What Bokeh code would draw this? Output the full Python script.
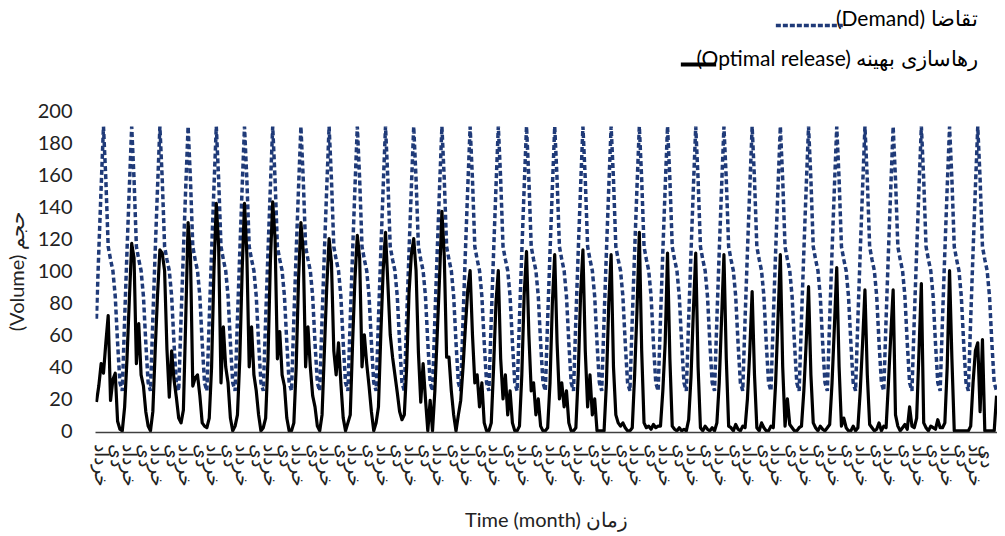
from bokeh.plotting import figure
from bokeh.models import Range1d, FixedTicker
from bokeh.layouts import column
from bokeh.embed import file_html
from bokeh.resources import INLINE
from bokeh.core.properties import value

# ---------------- data ----------------
months = list(range(384))  # 32 years x 12 months

demand = [
    70, 112, 152, 190, 157, 115, 107, 100, 84, 55, 30, 25,
    70, 112, 152, 190, 157, 115, 107, 100, 84, 55, 30, 25,
    70, 112, 152, 190, 157, 115, 107, 100, 84, 55, 30, 25,
    70, 112, 152, 190, 157, 115, 107, 100, 84, 55, 30, 25,
    70, 112, 152, 190, 157, 115, 107, 100, 84, 55, 30, 25,
    70, 112, 152, 190, 157, 115, 107, 100, 84, 55, 30, 25,
    70, 112, 152, 190, 157, 115, 107, 100, 84, 55, 30, 25,
    70, 112, 152, 190, 157, 115, 107, 100, 84, 55, 30, 25,
    70, 112, 152, 190, 157, 115, 107, 100, 84, 55, 30, 25,
    70, 112, 152, 190, 157, 115, 107, 100, 84, 55, 30, 25,
    70, 112, 152, 190, 157, 115, 107, 100, 84, 55, 30, 25,
    70, 112, 152, 190, 157, 115, 107, 100, 84, 55, 30, 25,
    70, 112, 152, 190, 157, 115, 107, 100, 84, 55, 30, 25,
    70, 112, 152, 190, 157, 115, 107, 100, 84, 55, 30, 25,
    70, 112, 152, 190, 157, 115, 107, 100, 84, 55, 30, 25,
    70, 112, 152, 190, 157, 115, 107, 100, 84, 55, 30, 25,
    70, 112, 152, 190, 157, 115, 107, 100, 84, 55, 30, 25,
    70, 112, 152, 190, 157, 115, 107, 100, 84, 55, 30, 25,
    70, 112, 152, 190, 157, 115, 107, 100, 84, 55, 30, 25,
    70, 112, 152, 190, 157, 115, 107, 100, 84, 55, 30, 25,
    70, 112, 152, 190, 157, 115, 107, 100, 84, 55, 30, 25,
    70, 112, 152, 190, 157, 115, 107, 100, 84, 55, 30, 25,
    70, 112, 152, 190, 157, 115, 107, 100, 84, 55, 30, 25,
    70, 112, 152, 190, 157, 115, 107, 100, 84, 55, 30, 25,
    70, 112, 152, 190, 157, 115, 107, 100, 84, 55, 30, 25,
    70, 112, 152, 190, 157, 115, 107, 100, 84, 55, 30, 25,
    70, 112, 152, 190, 157, 115, 107, 100, 84, 55, 30, 25,
    70, 112, 152, 190, 157, 115, 107, 100, 84, 55, 30, 25,
    70, 112, 152, 190, 157, 115, 107, 100, 84, 55, 30, 25,
    70, 112, 152, 190, 157, 115, 107, 100, 84, 55, 30, 25,
    70, 112, 152, 190, 157, 115, 107, 100, 84, 55, 30, 25,
    70, 112, 152, 190, 157, 115, 107, 100, 84, 55, 30, 25,
]

release = [
    18, 28, 42, 36, 55, 72, 19, 32, 36, 6, 1, 0,
    15, 45, 82, 117, 108, 42, 67, 35, 28, 12, 3, 0,
    12, 50, 85, 113, 111, 100, 51, 21, 50, 32, 21, 8,
    5, 13, 70, 130, 110, 28, 33, 35, 22, 5, 3, 2,
    8, 40, 100, 142, 115, 30, 65, 40, 30, 8, 0, 3,
    10, 45, 100, 142, 110, 40, 65, 35, 25, 10, 0, 2,
    8, 45, 105, 143, 120, 45, 62, 35, 28, 8, 0, 0,
    5, 40, 95, 130, 112, 40, 65, 40, 22, 15, 3, 0,
    10, 50, 90, 120, 105, 50, 35, 55, 30, 8, 0, 5,
    10, 55, 95, 122, 108, 40, 60, 42, 28, 12, 0, 5,
    15, 60, 100, 124, 92, 60, 46, 35, 24, 12, 7, 10,
    40, 86, 110, 120, 100, 49, 18, 42, 20, 0, 19, 0,
    25, 60, 96, 137, 109, 46, 46, 25, 10, 0, 10, 19,
    40, 65, 88, 100, 60, 30, 35, 15, 30, 5, 0, 0,
    5, 40, 80, 100, 45, 20, 35, 10, 25, 5, 0, 0,
    3, 35, 85, 112, 60, 25, 30, 10, 20, 3, 0, 0,
    2, 30, 80, 110, 55, 20, 30, 15, 25, 5, 0, 0,
    2, 35, 85, 113, 50, 15, 35, 10, 20, 0, 0, 0,
    0, 30, 80, 110, 40, 10, 5, 3, 5, 2, 0, 0,
    2, 35, 75, 124, 50, 5, 2, 3, 1, 4, 2, 3,
    3, 25, 55, 111, 45, 3, 1, 0, 2, 0, 1, 0,
    7, 34, 75, 111, 40, 2, 0, 3, 1, 0, 2, 0,
    5, 30, 70, 110, 45, 3, 2, 0, 4, 1, 0, 3,
    2, 20, 50, 87, 35, 2, 0, 5, 2, 0, 0, 3,
    2, 30, 70, 110, 40, 3, 20, 4, 2, 0, 0, 2,
    3, 25, 55, 90, 35, 5, 2, 0, 3, 1, 0, 2,
    4, 30, 65, 102, 40, 3, 8, 2, 0, 0, 3, 0,
    2, 25, 55, 88, 35, 4, 2, 0, 1, 5, 0, 3,
    2, 30, 60, 88, 10, 3, 0, 2, 4, 1, 15, 3,
    2, 8, 50, 92, 5, 2, 0, 3, 2, 1, 7, 2,
    2, 5, 40, 100, 45, 0, 0, 0, 0, 0, 0, 0,
    3, 30, 50, 55, 12, 57, 0, 0, 0, 0, 0, 22,
]

month_names = ["خرداد", "دی"]          # labelled months of each year
label_month_index = [2, 9]              # position of those months within a year
y_ticks = [0, 20, 40, 60, 80, 100, 120, 140, 160, 180, 200]

legend_texts = ["(Demand) تقاضا", "(Optimal release) رهاسازی بهینه"]
x_title = "Time (month) زمان"
y_title = "(Volume) حجم"

FONT = "Lato"
DEMAND_COLOR = "#1F3A78"
W = 997

# ---------------- legend strip (page px coordinates) ----------------
LH = 92
TOP = 1
leg = figure(width=W, height=LH, output_backend="svg", toolbar_location=None,
             x_range=Range1d(8, 8 + W), y_range=Range1d(TOP + LH, TOP),
             x_axis_location=None, y_axis_location=None,
             min_border=0, min_border_left=0, min_border_right=0,
             min_border_top=0, min_border_bottom=0)
leg.outline_line_color = None
leg.xgrid.visible = False
leg.ygrid.visible = False
leg.text(x=[983, 983], y=[18, 58], text=legend_texts, text_align="right",
         text_baseline="middle", text_font=value(FONT), text_font_size=value("21px"),
         text_color="black")
leg.line([760, 834], [26, 26], line_color=DEMAND_COLOR, line_width=3.5, line_dash="5 2")
leg.line([655, 694], [65, 65], line_color="black", line_width=4)

# ---------------- main chart ----------------
BL, BR, BT, BB = 88, 0, 18, 102
FRAME_H = 322
H = BT + FRAME_H + BB
X0, X1 = -0.4, 383.4
Y0, Y1 = -1, 200

p = figure(width=W, height=H, output_backend="svg", toolbar_location=None,
           x_range=Range1d(X0, X1), y_range=Range1d(Y0, Y1),
           min_border_left=BL, min_border_right=BR,
           min_border_top=BT, min_border_bottom=BB)
p.outline_line_color = None
p.xgrid.visible = False
p.ygrid.visible = False

p.line(months, demand, line_color=DEMAND_COLOR, line_width=3.5, line_dash="5 3")
p.line(months, release, line_color="black", line_width=3.2, line_join="round")

# y axis
p.yaxis.ticker = FixedTicker(ticks=y_ticks)
p.yaxis.axis_line_color = None
p.yaxis.major_tick_line_color = None
p.yaxis.minor_tick_line_color = None
p.yaxis.major_tick_out = 0
p.yaxis.major_label_standoff = 23
p.yaxis.major_label_text_font = FONT
p.yaxis.major_label_text_font_size = "20px"
p.yaxis.major_label_text_color = "#222222"
p.yaxis.axis_label = y_title
p.yaxis.axis_label_text_font = FONT
p.yaxis.axis_label_text_font_style = "normal"
p.yaxis.axis_label_text_font_size = "20px"
p.yaxis.axis_label_text_color = "#222222"
p.yaxis.axis_label_standoff = 7

# x axis
tick_pos = []
tick_txt = {}
for yr in range(32):
    for name, mi in zip(month_names, label_month_index):
        m = yr * 12 + mi
        tick_pos.append(m)
        tick_txt[m] = name
p.xaxis.ticker = FixedTicker(ticks=tick_pos)
p.xaxis.major_label_overrides = tick_txt
p.xaxis.major_label_orientation = -1.5707963
p.xaxis.axis_line_color = "#404040"
p.xaxis.axis_line_width = 1.5
p.xaxis.major_tick_line_color = None
p.xaxis.minor_tick_line_color = None
p.xaxis.major_tick_out = 0
p.xaxis.major_label_standoff = 12
p.xaxis.major_label_text_font_size = "19px"
p.xaxis.major_label_text_color = "#222222"
p.xaxis.axis_label = x_title
p.xaxis.axis_label_text_font = FONT
p.xaxis.axis_label_text_font_style = "normal"
p.xaxis.axis_label_text_font_size = "20px"
p.xaxis.axis_label_text_color = "#222222"
p.xaxis.axis_label_standoff = 16

open("out.html", "w").write(file_html(column(leg, p), INLINE))
